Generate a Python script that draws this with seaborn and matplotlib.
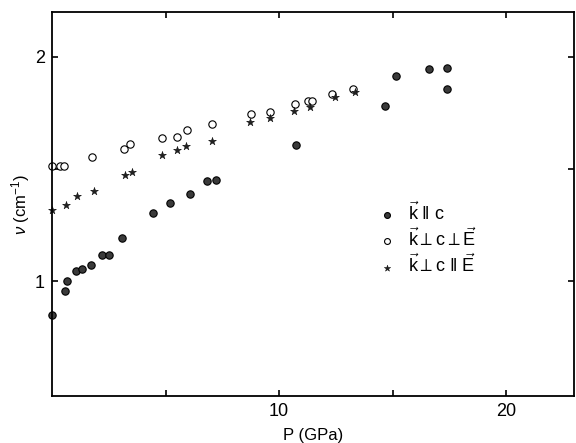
import numpy as np
import pandas as pd
import seaborn as sns
import matplotlib
matplotlib.use("Agg")
import matplotlib.pyplot as plt

sns.set_style("ticks")
plt.rcParams['font.family'] = ['Liberation Sans', 'DejaVu Sans']
plt.rcParams['mathtext.fontset'] = 'custom'
plt.rcParams['mathtext.rm'] = 'Liberation Sans'
plt.rcParams['mathtext.it'] = 'Liberation Sans:italic'
plt.rcParams['text.color'] = 'black'
plt.rcParams['axes.labelcolor'] = 'black'

# k || c  (filled circles)
p_par = [0.0, 0.57, 0.66, 1.05, 1.30, 1.70, 2.22, 2.50, 3.07, 4.44, 5.18, 6.08,
         6.84, 7.22, 10.73, 14.68, 15.16, 16.59, 17.38, 17.41]
nu_par = [0.849, 0.957, 1.0, 1.046, 1.056, 1.074, 1.117, 1.117, 1.193, 1.305, 1.348,
          1.39, 1.449, 1.452, 1.606, 1.782, 1.916, 1.947, 1.952, 1.856]

# k perp c perp E  (open circles)
p_perp = [0.0, 0.35, 0.54, 1.78, 3.16, 3.42, 4.84, 5.51, 5.95, 7.03, 8.76, 9.61,
          10.70, 11.29, 11.46, 12.34, 13.25]
nu_perp = [1.512, 1.512, 1.512, 1.554, 1.59, 1.612, 1.637, 1.643, 1.676, 1.70, 1.747,
           1.756, 1.79, 1.804, 1.804, 1.834, 1.856]

# k perp c || E  (stars)
p_star = [0.0, 0.60, 1.08, 1.83, 3.20, 3.54, 4.85, 5.50, 5.88, 7.03, 8.71, 9.61,
          10.67, 11.35, 12.46, 13.32]
nu_star = [1.32, 1.342, 1.379, 1.403, 1.476, 1.488, 1.561, 1.584, 1.604, 1.627, 1.71,
           1.729, 1.758, 1.775, 1.82, 1.843]

lab_par = r'$\vec{\mathrm{k}}\ \Vert\ \mathrm{c}$'
lab_perp = r'$\vec{\mathrm{k}}\perp\mathrm{c}\perp\vec{\mathrm{E}}$'
lab_star = r'$\vec{\mathrm{k}}\perp\mathrm{c}\ \Vert\ \vec{\mathrm{E}}$'

fig = plt.figure(figsize=(5.76, 4.43), dpi=100)
ax = fig.add_axes([0.0903, 0.106, 0.907, 0.867])

sns.scatterplot(x=p_par, y=nu_par, ax=ax, marker='o', s=28, color='#3a3a3a',
                edgecolor='black', linewidth=0.8, label=lab_par, clip_on=False)
sns.scatterplot(x=p_perp, y=nu_perp, ax=ax, marker='o', s=28, facecolor='white',
                edgecolor='black', linewidth=0.8, label=lab_perp, clip_on=False)
sns.scatterplot(x=p_star, y=nu_star, ax=ax, marker='*', s=36, color='#222222',
                edgecolor='black', linewidth=0.3, label=lab_star, clip_on=False)

ax.set_xlim(0, 23)
ax.set_ylim(0.49, 2.2)
ax.set_xticks([5, 10, 15, 20])
ax.set_xticklabels(['', '10', '', '20'])
ax.set_yticks([1, 1.5, 2])
ax.set_yticklabels(['1', '', '2'])
ax.tick_params(direction='in', top=True, right=True, length=4, width=1.2,
               labelsize=13, colors='black', pad=5)
for sp in ax.spines.values():
    sp.set_linewidth(1.3)
    sp.set_color('black')

ax.set_xlabel('P (GPa)', fontsize=12, labelpad=6)
ax.set_ylabel(r'$\nu$ (cm$^{-1}$)', fontsize=12, labelpad=2)

ax.legend(loc='center left', bbox_to_anchor=(0.575, 0.41), frameon=False,
          fontsize=13, handletextpad=0.2, labelspacing=0.2, markerscale=0.8)

fig.savefig('out.png', dpi=100)
